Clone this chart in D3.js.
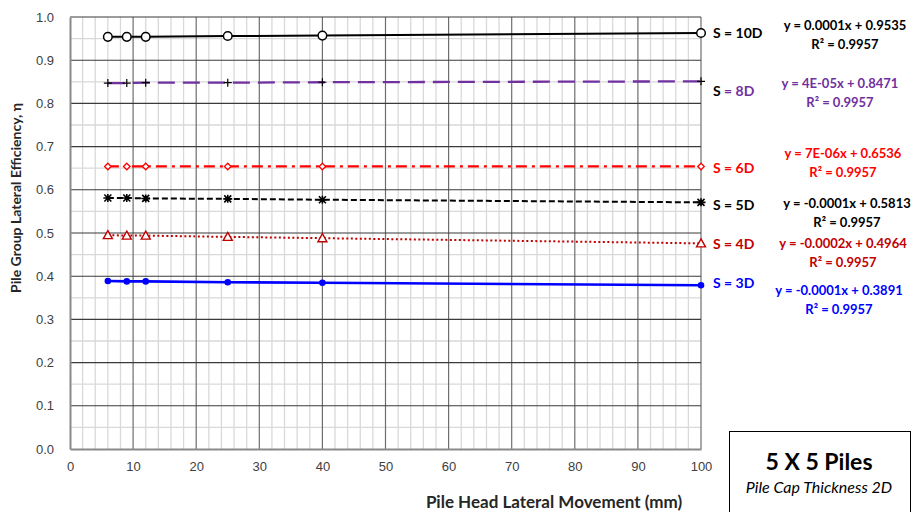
<!DOCTYPE html>
<meta charset="utf-8">
<style>
body { margin: 0; background: #fff; }
svg { display: block; font-family: Lato, "Open Sans", sans-serif; }
.tick text { font-size: 13px; fill: #404040; }
.domain { stroke: #898989; }
</style>
<body>
<script src="https://cdn.jsdelivr.net/npm/d3@7"></script>
<script>

var width = 919,
    height = 512;

// pile head lateral movement (mm)
var movement = [6, 9, 12, 25, 40, 100];

// group efficiency per spacing
var s10D = [0.954, 0.954, 0.954, 0.956, 0.957, 0.963];
var s8D  = [0.847, 0.847, 0.848, 0.848, 0.849, 0.851];
var s6D  = [0.654, 0.654, 0.654, 0.654, 0.654, 0.654];
var s5D  = [0.581, 0.581, 0.580, 0.579, 0.577, 0.571];
var s4D  = [0.495, 0.494, 0.494, 0.491, 0.488, 0.476];
var s3D  = [0.389, 0.388, 0.388, 0.386, 0.385, 0.379];

var seriesNames = ["S = 10D", "S = 8D", "S = 6D", "S = 5D", "S = 4D", "S = 3D"];
var equations = [
  "y = 0.0001x + 0.9535",
  "y = 4E-05x + 0.8471",
  "y = 7E-06x + 0.6536",
  "y = -0.0001x + 0.5813",
  "y = -0.0002x + 0.4964",
  "y = -0.0001x + 0.3891"
];
var rSquared = ["R² = 0.9957", "R² = 0.9957", "R² = 0.9957", "R² = 0.9957", "R² = 0.9957", "R² = 0.9957"];

var xTicks = d3.range(0, 101, 10),
    yTicks = d3.range(0, 1.01, 0.1);

var x = d3.scaleLinear().domain([0, 100]).range([70, 701]),
    y = d3.scaleLinear().domain([0, 1]).range([449, 17]);

var svg = d3.select("body").append("svg")
    .attr("width", width)
    .attr("height", height);

// minor grid
svg.append("g").selectAll("line")
    .data(d3.range(2, 100, 2).filter(function(d) { return d % 10; }))
  .enter().append("line")
    .attr("x1", d => x(d)).attr("x2", d => x(d))
    .attr("y1", y(0)).attr("y2", y(1))
    .attr("stroke", "#d9d9d9").attr("stroke-width", 1.3);

svg.append("g").selectAll("line")
    .data(d3.range(0.05, 1, 0.1))
  .enter().append("line")
    .attr("x1", x(0)).attr("x2", x(100))
    .attr("y1", d => y(d)).attr("y2", d => y(d))
    .attr("stroke", "#d9d9d9").attr("stroke-width", 1.3);

// major grid
svg.append("g").selectAll("line")
    .data(xTicks.slice(1))
  .enter().append("line")
    .attr("x1", d => x(d)).attr("x2", d => x(d))
    .attr("y1", y(0)).attr("y2", y(1))
    .attr("stroke", "#6e6e6e").attr("stroke-width", 1.2);

svg.append("g").selectAll("line")
    .data(yTicks.slice(1))
  .enter().append("line")
    .attr("x1", x(0)).attr("x2", x(100))
    .attr("y1", d => y(d)).attr("y2", d => y(d))
    .attr("stroke", "#3a3a3a").attr("stroke-width", 1.1);

// axes
svg.append("g")
    .attr("transform", "translate(0," + y(0) + ")")
    .call(d3.axisBottom(x).tickValues(xTicks).tickSize(0).tickPadding(13))
    .call(g => g.select(".domain").attr("stroke-width", 2));

svg.append("g")
    .attr("transform", "translate(" + x(0) + ",0)")
    .call(d3.axisLeft(y).tickValues(yTicks).tickFormat(d3.format(".1f")).tickSize(0).tickPadding(16))
    .call(g => g.select(".domain").attr("stroke-width", 2));

svg.append("text")
    .attr("x", 554).attr("y", 508)
    .attr("text-anchor", "middle")
    .style("font-size", "17px").style("font-weight", "bold").attr("fill", "#262626")
    .text("Pile Head Lateral Movement (mm)");

svg.append("text")
    .attr("transform", "translate(21,198) rotate(-90)")
    .attr("text-anchor", "middle")
    .style("font-size", "14px").style("font-weight", "bold").attr("fill", "#262626")
    .text("Pile Group Lateral Efficiency, η");

// series
var series = [
  {values: s10D, color: "#000", width: 2, dash: null, marker: "circle"},
  {values: s8D, color: "#7030a0", width: 2.3, dash: "17,8", marker: "plus"},
  {values: s6D, color: "#ff0000", width: 2.3, dash: "11,5,3,5", marker: "diamond"},
  {values: s5D, color: "#000", width: 2, dash: "6,3", marker: "star"},
  {values: s4D, color: "#c00000", width: 2, dash: "2,2.5", marker: "triangle"},
  {values: s3D, color: "#0000ff", width: 2.6, dash: null, marker: "dot"}
];

var line = d3.line()
    .x((d, i) => x(movement[i]))
    .y(d => y(d));

series.forEach(function(s) {
  svg.append("path")
      .attr("d", line(s.values))
      .attr("fill", "none")
      .attr("stroke", s.color)
      .attr("stroke-width", s.width)
      .attr("stroke-dasharray", s.dash);

  var m = svg.append("g").selectAll("g")
      .data(s.values)
    .enter().append("g")
      .attr("transform", (d, i) => "translate(" + x(movement[i]) + "," + y(d) + ")");

  if (s.marker === "circle") {
    m.append("circle").attr("r", 4.3).attr("fill", "#fff").attr("stroke", "#000").attr("stroke-width", 1.5);
  } else if (s.marker === "plus") {
    m.append("path").attr("d", "M-4,0H4M0,-4V4").attr("stroke", "#000").attr("stroke-width", 1.2);
  } else if (s.marker === "diamond") {
    m.append("path").attr("d", "M0,-3.3L3.3,0L0,3.3L-3.3,0Z").attr("fill", "#fff").attr("stroke", s.color).attr("stroke-width", 1.3);
  } else if (s.marker === "star") {
    m.append("path").attr("d", "M-3.5,-3.5L3.5,3.5M-3.5,3.5L3.5,-3.5M-4.5,0H4.5M0,-4V4").attr("stroke", "#000").attr("stroke-width", 1.6);
  } else if (s.marker === "triangle") {
    m.append("path").attr("d", "M0,-4.5L4.5,3.5L-4.5,3.5Z").attr("fill", "#fff").attr("stroke", s.color).attr("stroke-width", 1.4);
  } else {
    m.append("circle").attr("r", 3.3).attr("fill", s.color);
  }
});

// series labels and trend equations
var labelY = [32, 90, 167, 204, 243, 282],
    labelColor = ["#000", "#7030a0", "#ff0000", "#000", "#c00000", "#0000ff"],
    eqX = [845, 840, 843, 847, 843, 839],
    eqY = [25, 83, 153, 203, 243, 290];

var labels = svg.append("g")
    .style("font-size", "13px").style("font-weight", "bold")
    .attr("dominant-baseline", "central");

seriesNames.forEach(function(name, i) {
  var t = labels.append("text").attr("x", 713).attr("y", labelY[i]).style("font-size", "14px");
  if (i === 1) {
    t.append("tspan").attr("fill", "#000").text("S ");
    t.append("tspan").attr("fill", labelColor[i]).text(name.slice(2));
  } else {
    t.attr("fill", labelColor[i]).text(name);
  }
  labels.append("text")
      .attr("x", eqX[i]).attr("y", eqY[i])
      .attr("text-anchor", "middle").attr("fill", labelColor[i])
      .text(equations[i]);
  labels.append("text")
      .attr("x", eqX[i]).attr("y", eqY[i] + 18.5)
      .attr("text-anchor", "middle").attr("fill", labelColor[i])
      .text(rSquared[i]);
});

// caption box
svg.append("rect")
    .attr("x", 729.5).attr("y", 431.5).attr("width", 181).attr("height", 90)
    .attr("fill", "#fff").attr("stroke", "#000").attr("stroke-width", 1);

svg.append("text")
    .attr("x", 819).attr("y", 470)
    .attr("text-anchor", "middle")
    .style("font-size", "23px").style("font-weight", "bold")
    .text("5 X 5 Piles");

svg.append("text")
    .attr("x", 819).attr("y", 493)
    .attr("text-anchor", "middle")
    .style("font-size", "16px").style("font-style", "italic")
    .text("Pile Cap Thickness 2D");

</script>
